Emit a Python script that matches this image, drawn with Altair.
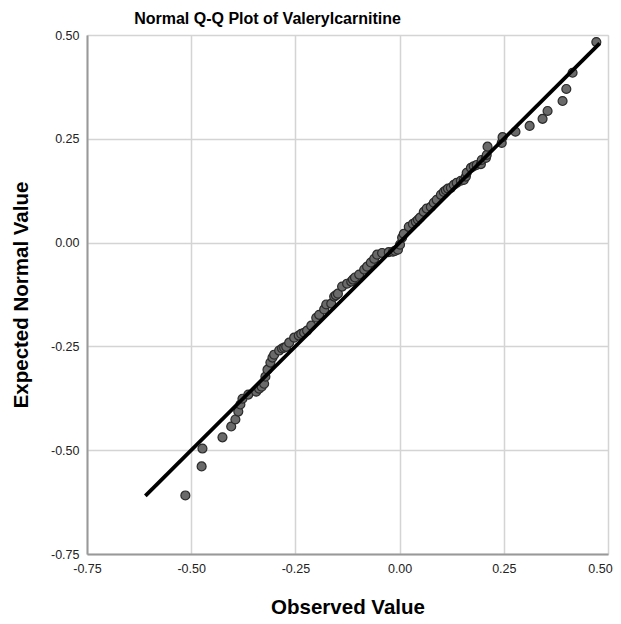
import altair as alt
import pandas as pd

observed = [
    -0.514, -0.475, -0.473, -0.425, -0.404, -0.394, -0.387, -0.382, -0.377, -0.363,
    -0.344, -0.337, -0.331, -0.325, -0.322, -0.317, -0.310, -0.305, -0.301, -0.289,
    -0.282, -0.277, -0.272, -0.265, -0.253, -0.242, -0.236, -0.229, -0.222, -0.212,
    -0.200, -0.193, -0.181, -0.176, -0.164, -0.157, -0.153, -0.148, -0.138, -0.126,
    -0.116, -0.112, -0.107, -0.097, -0.085, -0.078, -0.069, -0.061, -0.054, -0.042,
    -0.026, -0.016, -0.011, -0.004, 0.001, 0.006, 0.010, 0.022, 0.032, 0.039,
    0.044, 0.049, 0.058, 0.065, 0.075, 0.082, 0.089, 0.099, 0.106, 0.111,
    0.116, 0.123, 0.130, 0.137, 0.147, 0.154, 0.159, 0.161, 0.171, 0.178,
    0.185, 0.195, 0.197, 0.207, 0.209, 0.211, 0.245, 0.247, 0.278, 0.312,
    0.343, 0.355, 0.391, 0.400, 0.415, 0.472,
]
expected = [
    -0.609, -0.539, -0.496, -0.469, -0.443, -0.426, -0.407, -0.390, -0.376, -0.366,
    -0.359, -0.352, -0.347, -0.340, -0.323, -0.306, -0.289, -0.277, -0.270, -0.260,
    -0.255, -0.253, -0.251, -0.241, -0.229, -0.224, -0.220, -0.217, -0.212, -0.200,
    -0.181, -0.174, -0.161, -0.149, -0.147, -0.130, -0.127, -0.123, -0.106, -0.099,
    -0.094, -0.089, -0.084, -0.077, -0.065, -0.058, -0.048, -0.039, -0.029, -0.025,
    -0.023, -0.022, -0.020, -0.017, -0.005, 0.012, 0.021, 0.038, 0.045, 0.050,
    0.055, 0.060, 0.074, 0.082, 0.086, 0.096, 0.103, 0.115, 0.122, 0.126,
    0.130, 0.132, 0.139, 0.144, 0.149, 0.151, 0.159, 0.168, 0.180, 0.184,
    0.187, 0.189, 0.199, 0.204, 0.211, 0.231, 0.240, 0.254, 0.267, 0.281,
    0.298, 0.317, 0.341, 0.370, 0.409, 0.483,
]
# Reference line end points
line_x = [-0.61, 0.48]
line_y = [-0.61, 0.48]

ticks = [-0.75, -0.50, -0.25, 0.00, 0.25, 0.50]

pts = pd.DataFrame({"Observed Value": observed, "Expected Normal Value": expected})
ref = pd.DataFrame({"x": line_x, "y": line_y})

FONT = "Liberation Sans"
W, H = 521, 519
LABEL_EXPR = "replace(format(datum.value, '.2f'), '\u2212', '-')"

xscale = alt.Scale(domain=[-0.75, 0.5], nice=False, zero=False)
yscale = alt.Scale(domain=[-0.75, 0.5], nice=False, zero=False)

xaxis = alt.Axis(
    values=ticks, labelExpr=LABEL_EXPR, title="Observed Value",
    titleFontSize=20.5, titleFont=FONT, titleFontWeight="bold", titleColor="#000",
    titleY=53, titleBaseline="middle",
    labelFont=FONT, labelFontSize=12.5, labelColor="#222", labelPadding=8,
    labelFlush=False, labelOverlap=False,
    labelOffset=alt.expr("datum.value >= 0.5 ? -8 : 0"),
    tickSize=0, domainColor="#999", domainWidth=2,
    gridColor="#d4d4d4", gridWidth=1.5,
)
yaxis = alt.Axis(
    values=ticks, labelExpr=LABEL_EXPR, title="Expected Normal Value",
    titleFontSize=20.5, titleFont=FONT, titleFontWeight="bold", titleColor="#000",
    titleX=-66, titleY=H / 2, titleAngle=-90, titleAlign="center", titleBaseline="middle",
    labelFont=FONT, labelFontSize=12.5, labelColor="#222", labelPadding=8,
    labelFlush=False, labelOverlap=False,
    tickSize=0, domainColor="#999", domainWidth=2,
    gridColor="#d4d4d4", gridWidth=1.5,
)

points = alt.Chart(pts).mark_circle(
    size=80, color="#6a6a6a", stroke="#2a2a2a", strokeWidth=1.2, opacity=1
).encode(
    x=alt.X("Observed Value:Q", scale=xscale, axis=xaxis),
    y=alt.Y("Expected Normal Value:Q", scale=yscale, axis=yaxis),
)

line = alt.Chart(ref).mark_line(color="#000", strokeWidth=3.8).encode(
    x=alt.X("x:Q", scale=xscale),
    y=alt.Y("y:Q", scale=yscale),
)

chart = alt.layer(points, line).properties(
    width=W, height=H,
    title=alt.TitleParams(
        "Normal Q-Q Plot of Valerylcarnitine",
        font=FONT, fontSize=16, fontWeight="bold", color="#000",
        anchor="middle", dx=-80, offset=2,
    ),
    padding={"left": 79, "top": 27, "right": 5, "bottom": 62},
    autosize=alt.AutoSizeParams(type="none"),
).configure_view(stroke=None).configure(background="white")

chart.save("out.html", embed_options={"renderer": "svg", "actions": False})
